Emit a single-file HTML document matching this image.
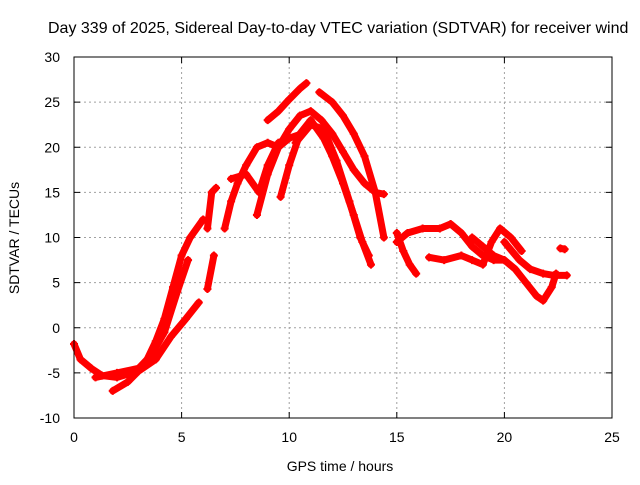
<!DOCTYPE html>
<html><head><meta charset="utf-8"><style>
html,body{margin:0;padding:0;background:#fff;overflow:hidden;}
svg text{font-family:"Liberation Sans",sans-serif;font-size:14px;fill:#000;}
</style></head><body>
<svg id="chart" width="640" height="480">
<rect x="0" y="0" width="640" height="480" fill="#fff"/>
<text x="48" y="33" style="font-size:16px">Day 339 of 2025, Sidereal Day-to-day VTEC variation (SDTVAR) for receiver wind</text>
<g id="grid"></g>
<g id="series"></g>
<rect x="74" y="57" width="538" height="361" fill="none" stroke="#000" stroke-width="1"/>
<g id="ticks"></g>
<text x="340" y="471" text-anchor="middle">GPS time / hours</text>
<text x="19" y="238" text-anchor="middle" transform="rotate(-90 19 238)">SDTVAR / TECUs</text>
</svg>
<script>
const xTicks=[0,5,10,15,20,25];
const yTicks=[-10,-5,0,5,10,15,20,25,30];
const track1=[[0,-1.8],[0.3,-3.5],[0.8,-4.5],[1.3,-5.3],[2,-5.5],[2.7,-5],[3.3,-4],[3.8,-1.5],[4.2,1],[4.6,4.5],[5,8],[5.4,10],[6,12]];
const track2=[[1.8,-7],[2.5,-6],[3,-4.8],[3.8,-3.5],[4.5,-1],[5.2,1],[5.8,2.8]];
const track3=[[1,-5.5],[2,-5],[3,-4.5],[3.6,-3],[4.2,-0.5],[4.8,4],[5.3,7.5]];
const track4=[[6.2,4.3],[6.5,8]];
const track5=[[6.2,11],[6.4,15],[6.6,15.5]];
const track6=[[7,11],[7.3,14],[7.6,16],[8,18],[8.5,20],[9,20.5],[9.5,20],[10,21]];
const track7=[[7.3,16.5],[8,17],[8.6,15],[9,18],[9.5,20.5],[10,21],[10.6,21.5]];
const track8=[[8.5,12.5],[9,17],[9.5,20],[10,22],[10.5,23.5],[11,24],[11.5,23],[12,21.5],[12.5,19.5],[13,17.5],[13.5,16],[14,15],[14.4,14.8]];
const track9=[[9,23],[9.5,24],[10,25.3],[10.5,26.5],[10.8,27.1]];
const track10=[[11.4,26.1],[12,25],[12.5,23.5],[13,21.5],[13.5,19],[14,15],[14.4,10]];
const track11=[[9.6,14.5],[10,18],[10.5,21.5],[11,23],[11.6,21],[12,19],[12.5,16],[13,12.5],[13.4,9.5],[13.8,7]];
const track12=[[10.3,20.5],[11,22.5],[11.6,22],[12.2,18.5],[12.8,14],[13.3,10],[13.7,8]];
const track13=[[15,10.5],[15.3,8.5],[15.6,7],[15.9,6]];
const track14=[[15,9.5],[15.5,10.5],[16.2,11],[17,11],[17.5,11.5],[18,10.5],[18.5,9],[19,8],[19.5,7.5],[20,7.5]];
const track15=[[16.5,7.8],[17.2,7.5],[18,8],[18.5,7.5],[19,7],[19.4,9.5],[19.8,11],[20.3,10],[20.8,8.5]];
const track16=[[18.5,10],[19,9],[19.5,8],[20,7.5],[20.5,6.5],[21,5],[21.5,3.5],[21.8,3],[22.2,4.5],[22.4,6]];
const track17=[[20,9.5],[20.7,7.5],[21.2,6.5],[21.8,6],[22.3,5.8],[22.9,5.8]];
const track18=[[22.6,8.8],[22.8,8.7]];
const tracks=[track1,track2,track3,track4,track5,track6,track7,track8,track9,track10,track11,track12,track13,track14,track15,track16,track17,track18];
const X0=74,X1=612,Y0=418,Y1=57;
function sx(t){return X0+(t-0)/(25-0)*(X1-X0);}
function sy(v){return Y0-(v+10)/(40)*(Y0-Y1);}
const NS="http://www.w3.org/2000/svg";
const grid=document.getElementById('grid'),ticks=document.getElementById('ticks'),ser=document.getElementById('series');
function mk(tag,attrs,parent){const e=document.createElementNS(NS,tag);for(const k in attrs)e.setAttribute(k,attrs[k]);parent.appendChild(e);return e;}
xTicks.forEach(t=>{
  const x=sx(t);
  if(t>0&&t<25){const g=mk('line',{x1:x,x2:x,y1:Y1,y2:Y0,stroke:'#a0a0a0','stroke-dasharray':'2,3'},grid);
  
  }
  mk('line',{x1:x,x2:x,y1:Y0,y2:Y0-6,stroke:'#000'},ticks);
  mk('line',{x1:x,x2:x,y1:Y1,y2:Y1+6,stroke:'#000'},ticks);
  const l=mk('text',{x:x,y:Y0+24,'text-anchor':'middle'},ticks);l.textContent=t;
  
  
});
yTicks.forEach(v=>{
  const y=sy(v);
  if(v>-10&&v<30){const g=mk('line',{x1:X0,x2:X1,y1:y,y2:y,stroke:'#a0a0a0','stroke-dasharray':'2,3'},grid);
  
  }
  mk('line',{x1:X0,x2:X0+6,y1:y,y2:y,stroke:'#000'},ticks);
  mk('line',{x1:X1,x2:X1-6,y1:y,y2:y,stroke:'#000'},ticks);
  const l=mk('text',{x:X0-14,y:y+5,'text-anchor':'end'},ticks);l.textContent=v;
  
  
});
tracks.forEach(tr=>{
  const p=mk('polyline',{points:tr.map(d=>sx(d[0])+','+sy(d[1])).join(' '),fill:'none',stroke:'#ff0000','stroke-width':7,'stroke-linejoin':'round','stroke-linecap':'round'},ser);
  
  
  tr.forEach(d=>{
    const x=sx(d[0]),y=sy(d[1]);
    const m=mk('path',{d:`M${x-4},${y}H${x+4}M${x},${y-4}V${y+4}`,stroke:'#ff0000','stroke-width':2},ser);
    
    
  });
});
</script>
</body></html>
